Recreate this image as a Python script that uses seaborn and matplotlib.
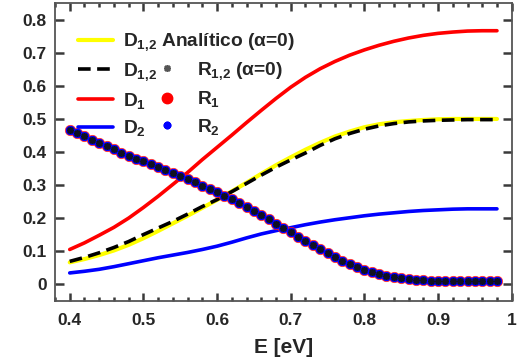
import numpy as np
import matplotlib
matplotlib.use("Agg")
import matplotlib.pyplot as plt
from matplotlib.lines import Line2D
from matplotlib.ticker import MultipleLocator
import seaborn as sns

# curves sampled every 0.02 eV
e_line = np.round(np.arange(0.40, 0.985, 0.02), 2)
d1 = [0.105, 0.125, 0.148, 0.172, 0.200, 0.232, 0.266, 0.302, 0.338, 0.377,
      0.414, 0.451, 0.489, 0.526, 0.562, 0.596, 0.626, 0.652, 0.674, 0.693,
      0.709, 0.723, 0.735, 0.745, 0.753, 0.759, 0.763, 0.766, 0.767, 0.767]
d2 = [0.034, 0.039, 0.045, 0.053, 0.062, 0.071, 0.080, 0.088, 0.096, 0.105,
      0.115, 0.127, 0.140, 0.152, 0.162, 0.171, 0.180, 0.188, 0.195, 0.201,
      0.207, 0.212, 0.216, 0.220, 0.223, 0.225, 0.227, 0.228, 0.228, 0.228]
d12 = [0.069, 0.081, 0.095, 0.111, 0.129, 0.150, 0.170, 0.190, 0.212, 0.235,
       0.256, 0.280, 0.305, 0.330, 0.354, 0.376, 0.397, 0.420, 0.440, 0.456,
       0.469, 0.479, 0.486, 0.491, 0.494, 0.496, 0.497, 0.498, 0.498, 0.498]
d12_analitico = [0.066, 0.076, 0.088, 0.102, 0.119, 0.139, 0.161, 0.184, 0.207, 0.231,
                 0.255, 0.281, 0.307, 0.334, 0.360, 0.384, 0.407, 0.428, 0.447, 0.462,
                 0.475, 0.484, 0.490, 0.494, 0.497, 0.499, 0.500, 0.500, 0.500, 0.500]

# reflection points every 0.01 eV
e_pts = np.round(np.arange(0.40, 0.985, 0.01), 2)
r12 = [0.467, 0.457, 0.447, 0.437, 0.427, 0.418, 0.408, 0.398, 0.389, 0.380,
       0.372, 0.363, 0.354, 0.345, 0.336, 0.327, 0.317, 0.308, 0.298, 0.288,
       0.278, 0.268, 0.257, 0.246, 0.234, 0.222, 0.209, 0.196, 0.183, 0.170,
       0.157, 0.144, 0.131, 0.118, 0.105, 0.093, 0.081, 0.070, 0.060, 0.051,
       0.043, 0.036, 0.030, 0.025, 0.021, 0.018, 0.016, 0.014, 0.012, 0.011,
       0.010, 0.010, 0.009, 0.009, 0.009, 0.009, 0.009, 0.009, 0.009]
r1 = list(r12)
r2 = list(r12)

x_ticks = [0.4, 0.5, 0.6, 0.7, 0.8, 0.9, 1.0]
x_labels = ["0.4", "0.5", "0.6", "0.7", "0.8", "0.9", "1"]
y_ticks = [0, 0.1, 0.2, 0.3, 0.4, 0.5, 0.6, 0.7, 0.8]
y_labels = ["0", "0.1", "0.2", "0.3", "0.4", "0.5", "0.6", "0.7", "0.8"]

grey = "#555555"
sns.set_style("white")
plt.rcParams["font.family"] = ["Liberation Sans", "DejaVu Sans"]
plt.rcParams["font.weight"] = "bold"
plt.rcParams["mathtext.fontset"] = "custom"
plt.rcParams["mathtext.rm"] = "Liberation Sans:bold"
plt.rcParams["mathtext.it"] = "Liberation Sans:bold"
plt.rcParams["mathtext.bf"] = "Liberation Sans:bold"
plt.rcParams["mathtext.default"] = "rm"

fig = plt.figure(figsize=(5.17, 3.62), dpi=100)
ax = fig.add_axes([55 / 517, 1 - 300.7 / 362, 456.7 / 517, 297.4 / 362])

sns.lineplot(x=e_line, y=d1, color="#ff0000", lw=2.6, ax=ax)
sns.lineplot(x=e_line, y=d2, color="#0000ff", lw=2.6, ax=ax)
sns.lineplot(x=e_line, y=d12_analitico, color="#ffff00", lw=3.0, ax=ax)
sns.lineplot(x=e_line, y=d12, color="black", lw=2.6, ax=ax)
ax.lines[-1].set_dashes([3.5, 1.8])

sns.lineplot(x=e_pts, y=r1, color="#ff0000", marker="o", ls="", ms=7.5,
             mec="#ff2020", mfc="#ff0000", mew=0.5, alpha=0.85, ax=ax)
sns.lineplot(x=e_pts, y=r2, color="#0000ff", marker=(8, 2, 0), ls="", ms=6.5,
             mec="#0000ff", mew=2.0, ax=ax)
sns.lineplot(x=e_pts, y=r12, color="#101020", marker=(8, 2, 0), ls="", ms=5,
             mec="#101020", mew=1.2, ax=ax)

ax.set_xlim(0.38, 1.0)
ax.set_ylim(-0.05, 0.85)
ax.set_xticks(x_ticks)
ax.set_xticklabels(x_labels)
ax.set_yticks(y_ticks)
ax.set_yticklabels(y_labels)
ax.xaxis.set_minor_locator(MultipleLocator(0.02))
ax.yaxis.set_minor_locator(plt.NullLocator())
ax.tick_params(which="both", direction="in", top=True, right=True,
               bottom=True, left=True, color="#3a3a3a", width=1.8)
ax.tick_params(axis="x", which="major", length=5.5, labelsize=12.5, pad=9)
ax.tick_params(axis="x", which="minor", length=3.2)
ax.tick_params(axis="y", which="major", length=6.5, labelsize=12.5, pad=6)
for s in ax.spines.values():
    s.set_visible(True)
    s.set_color(grey)
    s.set_linewidth(1.3)
for lab in ax.get_xticklabels() + ax.get_yticklabels():
    lab.set_fontweight("bold")
ax.set_xlabel("E [eV]", fontsize=15, fontweight="bold", labelpad=7)
ax.set_ylabel("")

# key, drawn in two columns like the original
h_lines = [Line2D([], [], color="#ffff00", lw=3),
           Line2D([], [], color="black", lw=2.6, dashes=[3.5, 1.8]),
           Line2D([], [], color="#ff0000", lw=2.6),
           Line2D([], [], color="#0000ff", lw=2.6)]
l_lines = [r"$D_{1{,}2}$ Analítico (α=0)", r"$D_{1{,}2}$", r"$D_1$", r"$D_2$"]
h_pts = [Line2D([], [], color="#555555", marker=(8, 2, 0), ls="", ms=5, mew=1.2),
         Line2D([], [], color="#ff0000", marker="o", ls="", ms=7.5),
         Line2D([], [], color="#0000ff", marker=(8, 2, 0), ls="", ms=5.5, mew=1.8)]
l_pts = [r"$R_{1{,}2}$ (α=0)", r"$R_1$", r"$R_2$"]

leg_a = ax.legend(h_lines, l_lines, loc="upper left", bbox_to_anchor=(0.05, 0.905),
                  frameon=False, fontsize=13.8, handlelength=1.85, handletextpad=0.5,
                  labelspacing=0.4, borderpad=0, borderaxespad=0)
ax.add_artist(leg_a)
ax.legend(h_pts, l_pts, loc="upper left", bbox_to_anchor=(0.206, 0.81),
          frameon=False, fontsize=13.8, handlelength=1.9, handletextpad=0.6,
          labelspacing=0.4, borderpad=0, borderaxespad=0)

fig.savefig("out.png", dpi=100)
